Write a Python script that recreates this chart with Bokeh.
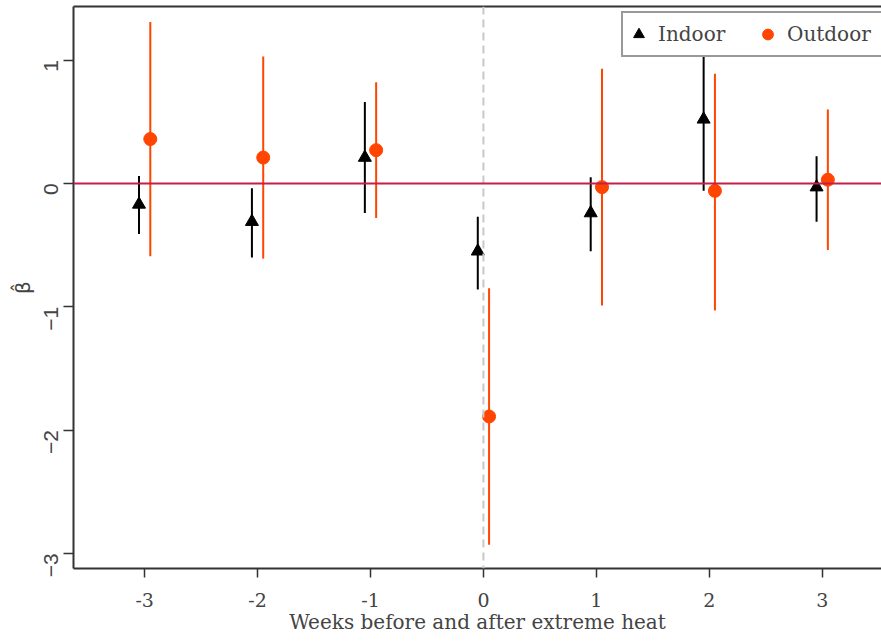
from bokeh.plotting import figure
from bokeh.models import (Range1d, FixedTicker, Span, Legend, LegendItem,
                          LinearAxis, ColumnDataSource)
from bokeh.embed import file_html
from bokeh.resources import INLINE
import math

weeks = [-3, -2, -1, 0, 1, 2, 3]
week_labels = {-3: "-3", -2: "-2", -1: "-1", 0: "0", 1: "1", 2: "2", 3: "3"}

indoor_est = [-0.17, -0.31, 0.21, -0.55, -0.24, 0.52, -0.03]
indoor_lo = [-0.41, -0.60, -0.24, -0.86, -0.55, -0.06, -0.31]
indoor_hi = [0.06, -0.04, 0.66, -0.27, 0.05, 1.10, 0.22]

outdoor_est = [0.36, 0.21, 0.27, -1.89, -0.03, -0.06, 0.03]
outdoor_lo = [-0.59, -0.61, -0.28, -2.93, -0.99, -1.03, -0.54]
outdoor_hi = [1.31, 1.03, 0.82, -0.85, 0.93, 0.89, 0.60]

y_ticks = [-3, -2, -1, 0, 1]
offset = 0.05

ORANGE = "#FF4500"
BLACK = "#000000"

p = figure(width=881, height=641, output_backend="svg", toolbar_location=None,
           x_range=Range1d(-3.63, 3.525), y_range=Range1d(-3.123, 1.435),
           min_border_left=73, min_border_right=0, min_border_top=6,
           min_border_bottom=73)
p.background_fill_color = "white"
p.border_fill_color = "white"
p.outline_line_color = None
p.xgrid.visible = False
p.ygrid.visible = False

# vertical dashed line at 0 and horizontal zero line
p.add_layout(Span(location=0, dimension="height", line_color="#C8C8C8",
                  line_width=2, line_dash="8 5"))
p.add_layout(Span(location=0, dimension="width", line_color="#C41E4A",
                  line_width=2))

ix = [w - offset for w in weeks]
ox = [w + offset for w in weeks]

src_in = ColumnDataSource(dict(x=ix, y=indoor_est, lo=indoor_lo, hi=indoor_hi))
src_out = ColumnDataSource(dict(x=ox, y=outdoor_est, lo=outdoor_lo, hi=outdoor_hi))

p.segment(x0="x", y0="lo", x1="x", y1="hi", source=src_in, line_color=BLACK, line_width=2)
p.segment(x0="x", y0="lo", x1="x", y1="hi", source=src_out, line_color=ORANGE, line_width=2)
r_in = p.scatter(x="x", y="y", source=src_in, marker="triangle", size=13,
                 fill_color=BLACK, line_color=BLACK)
r_out = p.scatter(x="x", y="y", source=src_out, marker="circle", size=13,
                  fill_color=ORANGE, line_color=ORANGE)

# axes
xa = p.xaxis[0]
xa.ticker = FixedTicker(ticks=weeks)
xa.major_label_overrides = {w: week_labels[w] for w in weeks}
xa.axis_label = "Weeks before and after extreme heat"
xa.axis_label_text_font = "DejaVu Serif"
xa.axis_label_text_font_style = "normal"
xa.axis_label_text_font_size = "20px"
xa.axis_label_standoff = 0
xa.major_label_text_font = "DejaVu Serif"
xa.major_label_text_font_size = "19px"
xa.major_label_standoff = 15
xa.axis_line_width = 2
xa.axis_line_color = "#333333"
xa.major_tick_line_width = 1.5
xa.major_tick_line_color = "#333333"
xa.major_tick_in = 0
xa.major_tick_out = 9
xa.minor_tick_line_color = None

ya = p.yaxis[0]
ya.ticker = FixedTicker(ticks=y_ticks)
ya.axis_label = "\u03b2\u0302"
ya.axis_label_text_font = "DejaVu Sans"
ya.axis_label_text_font_style = "normal"
ya.axis_label_text_font_size = "20px"
ya.axis_label_standoff = 0
ya.major_label_text_font = "Liberation Sans"
ya.major_label_text_font_size = "21px"
ya.major_label_orientation = math.pi / 2
ya.major_label_standoff = 12
ya.axis_line_width = 2
ya.axis_line_color = "#333333"
ya.major_tick_line_width = 1.5
ya.major_tick_line_color = "#333333"
ya.major_tick_in = 0
ya.major_tick_out = 10
ya.minor_tick_line_color = None

top = LinearAxis(ticker=FixedTicker(ticks=[]), axis_line_width=2,
                 axis_line_color="#333333", major_tick_line_color=None,
                 minor_tick_line_color=None, major_label_text_font_size="0px")
p.add_layout(top, "above")

legend = Legend(items=[LegendItem(label="Indoor", renderers=[r_in]),
                       LegendItem(label="Outdoor", renderers=[r_out])],
                orientation="horizontal", location=(548, 511),
                label_text_font="DejaVu Serif", label_text_font_size="20px",
                border_line_color="#333333", border_line_width=2,
                background_fill_alpha=1.0, padding=2, spacing=1,
                glyph_width=27, glyph_height=30, label_height=38,
                label_width=95, label_standoff=6, margin=0)
p.add_layout(legend, "center")

open("out.html", "w").write(file_html(p, INLINE))
